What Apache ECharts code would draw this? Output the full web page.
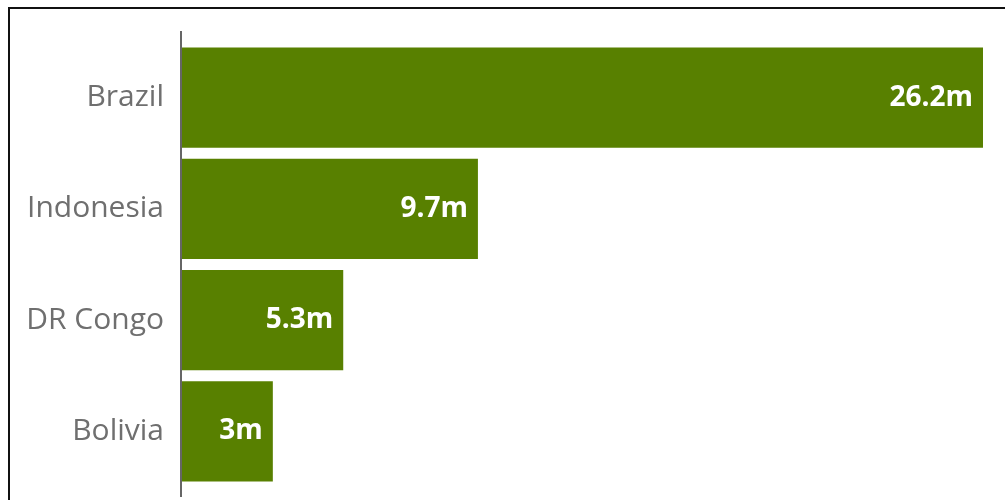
<!DOCTYPE html>
<html>
<head>
<meta charset="utf-8">
<script src="https://cdn.jsdelivr.net/npm/echarts@6/dist/echarts.min.js"></script>
<style>
  html, body { margin: 0; padding: 0; background: #fff; }
  #chart { width: 1005px; height: 500px; }
</style>
</head>
<body>
<div id="chart"></div>
<script>
// Countries and their values (millions)
const countries = ['Brazil', 'Indonesia', 'DR Congo', 'Bolivia'];
const values = [26.2, 9.7, 5.3, 3];
const valueLabels = ['26.2m', '9.7m', '5.3m', '3m'];

const barColor = '#588000';
const gridLeft = 181, gridTop = 42, gridRight = 22, gridBottom = 13;

const chart = echarts.init(document.getElementById('chart'));
chart.setOption({
  animation: false,
  backgroundColor: '#fff',
  grid: { left: gridLeft, right: gridRight, top: gridTop, bottom: gridBottom, containLabel: false },
  xAxis: {
    type: 'value', min: 0, max: values[0], show: false
  },
  yAxis: {
    type: 'category', data: countries, inverse: true,
    axisLine: { show: false }, axisTick: { show: false },
    axisLabel: { margin: 17, color: '#6f6f6f', fontSize: 30, fontFamily: 'Open Sans' }
  },
  series: [{
    type: 'bar',
    data: values,
    barCategoryGap: '10%',
    itemStyle: { color: barColor },
    label: {
      show: true, position: 'insideRight', distance: 10,
      formatter: p => valueLabels[p.dataIndex],
      color: '#fff', fontSize: 28, fontWeight: 'bold', fontFamily: 'Open Sans'
    }
  }],
  graphic: [
    // frame: top and left edges
    { type: 'line', shape: { x1: 8, y1: 8, x2: 1005, y2: 8 }, style: { stroke: '#111', lineWidth: 2 } },
    { type: 'line', shape: { x1: 9, y1: 7, x2: 9, y2: 500 }, style: { stroke: '#111', lineWidth: 2 } },
    // baseline axis extending past the bars
    { type: 'line', shape: { x1: gridLeft, y1: 31, x2: gridLeft, y2: 497 }, style: { stroke: '#666', lineWidth: 2 }, z: 10 }
  ]
});
</script>
</body>
</html>
